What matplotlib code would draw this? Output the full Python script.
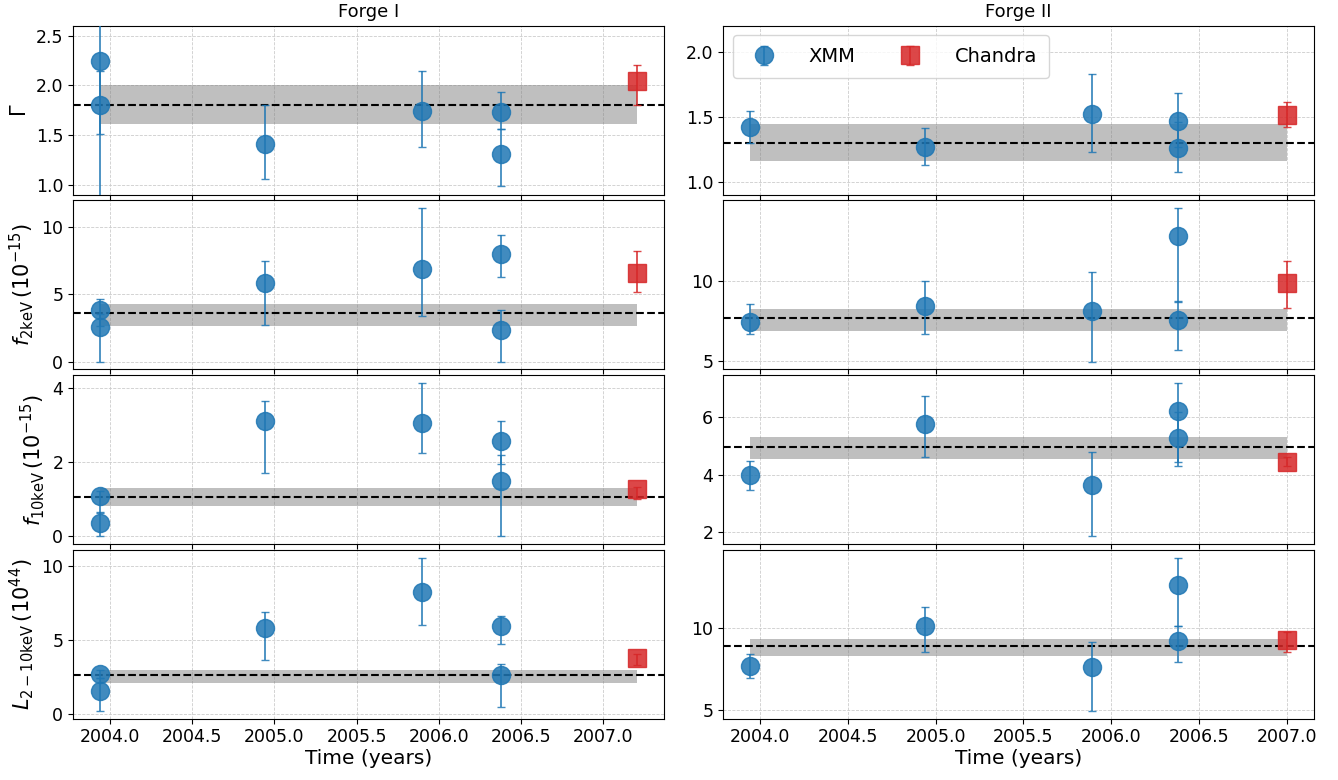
import numpy as np
import matplotlib
matplotlib.use("Agg")
import matplotlib.pyplot as plt

# observation epochs
t_xmm_1 = [2003.94, 2003.94, 2004.945, 2005.896, 2006.377, 2006.377]
t_chandra_1 = [2007.205]
t_xmm_2 = [2003.944, 2004.94, 2005.89, 2006.38, 2006.38]
t_chandra_2 = [2007.0]

ylabels = [r'$\Gamma$', r'$f_{\rm 2keV}\,(10^{-15})$',
           r'$f_{\rm 10keV}\,(10^{-15})$', r'$L_{2-10\rm keV}\,(10^{44})$']
titles = ['Forge I', 'Forge II']

# Forge I : value, lower err, upper err
gam_1 = [2.24, 1.80, 1.41, 1.74, 1.73, 1.31]
gam_1_lo = [1.45, 0.29, 0.35, 0.36, 0.17, 0.32]
gam_1_hi = [0.50, 0.34, 0.39, 0.40, 0.20, 0.25]
gam_1_ch = [2.04]; gam_1_ch_lo = [0.24]; gam_1_ch_hi = [0.16]

f2_1 = [3.85, 2.55, 5.85, 6.85, 8.0, 2.35]
f2_1_lo = [1.2, 2.55, 3.1, 3.45, 1.75, 2.35]
f2_1_hi = [0.8, 1.0, 1.6, 4.55, 1.42, 1.48]
f2_1_ch = [6.6]; f2_1_ch_lo = [1.46]; f2_1_ch_hi = [1.62]

f10_1 = [1.10, 0.35, 3.12, 3.06, 2.57, 1.50]
f10_1_lo = [0.48, 0.35, 1.42, 0.80, 0.62, 1.50]
f10_1_hi = [0.12, 0.30, 0.54, 1.08, 0.55, 0.68]
f10_1_ch = [1.28]; f10_1_ch_lo = [0.27]; f10_1_ch_hi = [0.06]

lum_1 = [2.7, 1.5, 5.8, 8.25, 5.92, 2.6]
lum_1_lo = [0.3, 1.32, 2.14, 2.23, 1.24, 2.15]
lum_1_hi = [0.25, 0.9, 1.06, 2.3, 0.67, 0.79]
lum_1_ch = [3.75]; lum_1_ch_lo = [0.45]; lum_1_ch_hi = [0.3]

# Forge II
gam_2 = [1.42, 1.27, 1.52, 1.47, 1.26]
gam_2_lo = [0.12, 0.14, 0.29, 0.20, 0.19]
gam_2_hi = [0.12, 0.14, 0.31, 0.21, 0.20]
gam_2_ch = [1.51]; gam_2_ch_lo = [0.09]; gam_2_ch_hi = [0.10]

f2_2 = [7.45, 8.4, 8.1, 12.8, 7.55]
f2_2_lo = [0.73, 1.73, 3.12, 4.12, 1.84]
f2_2_hi = [1.11, 1.56, 2.42, 1.7, 1.17]
f2_2_ch = [9.85]; f2_2_ch_lo = [1.55]; f2_2_ch_hi = [1.34]

f10_2 = [3.97, 5.75, 3.65, 6.23, 5.27]
f10_2_lo = [0.52, 1.13, 1.80, 1.78, 0.96]
f10_2_hi = [0.51, 0.98, 1.15, 0.97, 0.90]
f10_2_ch = [4.45]; f10_2_ch_lo = [0.15]; f10_2_ch_hi = [0.15]

lum_2 = [7.7, 10.1, 7.6, 12.6, 9.2]
lum_2_lo = [0.75, 1.54, 2.66, 2.45, 1.27]
lum_2_hi = [0.72, 1.18, 1.56, 1.7, 0.95]
lum_2_ch = [9.25]; lum_2_ch_lo = [0.7]; lum_2_ch_hi = [0.5]

# mean and scatter (band) per panel
mean_1 = [1.80, 3.63, 1.06, 2.61]
band_1 = [(1.615, 2.0), (2.63, 4.26), (0.82, 1.29), (2.05, 2.98)]
mean_2 = [1.30, 7.68, 4.98, 8.93]
band_2 = [(1.161, 1.444), (6.9, 8.26), (4.53, 5.31), (8.31, 9.36)]

col1 = [(gam_1, gam_1_lo, gam_1_hi, gam_1_ch, gam_1_ch_lo, gam_1_ch_hi),
        (f2_1, f2_1_lo, f2_1_hi, f2_1_ch, f2_1_ch_lo, f2_1_ch_hi),
        (f10_1, f10_1_lo, f10_1_hi, f10_1_ch, f10_1_ch_lo, f10_1_ch_hi),
        (lum_1, lum_1_lo, lum_1_hi, lum_1_ch, lum_1_ch_lo, lum_1_ch_hi)]
col2 = [(gam_2, gam_2_lo, gam_2_hi, gam_2_ch, gam_2_ch_lo, gam_2_ch_hi),
        (f2_2, f2_2_lo, f2_2_hi, f2_2_ch, f2_2_ch_lo, f2_2_ch_hi),
        (f10_2, f10_2_lo, f10_2_hi, f10_2_ch, f10_2_ch_lo, f10_2_ch_hi),
        (lum_2, lum_2_lo, lum_2_hi, lum_2_ch, lum_2_ch_lo, lum_2_ch_hi)]

fig, axes = plt.subplots(4, 2, figsize=(13.38, 7.8), dpi=100, sharex='col')
plt.subplots_adjust(left=0.0546, right=0.982, top=0.967, bottom=0.0786,
                    wspace=0.1, hspace=0.035)

for j, (cols, tx, tc, means, bands) in enumerate(
        [(col1, t_xmm_1, t_chandra_1, mean_1, band_1),
         (col2, t_xmm_2, t_chandra_2, mean_2, band_2)]):
    for i, (v, lo, hi, vc, vclo, vchi) in enumerate(cols):
        ax = axes[i, j]
        ax.grid(True, ls='--', lw=0.6, color='#cccccc', zorder=0)
        ax.set_axisbelow(True)
        ax.fill_between([tx[0], tc[0]], bands[i][0], bands[i][1],
                        color='grey', alpha=0.5, lw=0, zorder=1)
        ax.axhline(means[i], color='black', ls='--', lw=1.5, zorder=2)
        ax.errorbar(tx, v, yerr=[lo, hi], fmt='o', color='tab:blue',
                    ms=13, capsize=3, elinewidth=1.3, alpha=0.85,
                    label='XMM', zorder=3)
        ax.errorbar(tc, vc, yerr=[vclo, vchi], fmt='s', color='tab:red',
                    ms=13, capsize=3, elinewidth=1.3, alpha=0.85,
                    label='Chandra', zorder=3)
        ax.tick_params(labelsize=12.5)
        if j == 0:
            ax.set_ylabel(ylabels[i], fontsize=15)
        if i == 0:
            ax.set_title(titles[j], fontsize=13)
        if i == 3:
            ax.set_xlabel('Time (years)', fontsize=14.5, labelpad=2)

axes[0, 0].set_ylim(0.9, 2.6)
axes[0, 1].set_ylim(0.9, 2.2)
axes[0, 1].set_yticks([1.0, 1.5, 2.0])
axes[1, 1].set_yticks([5, 10])
axes[3, 0].set_yticks([0, 5, 10])
axes[3, 1].set_yticks([5, 10])
axes[0, 1].legend(loc='upper left', ncol=2, fontsize=14, borderpad=0.6,
                  columnspacing=1.8, handletextpad=1.3)

plt.savefig('out.png', dpi=100)
